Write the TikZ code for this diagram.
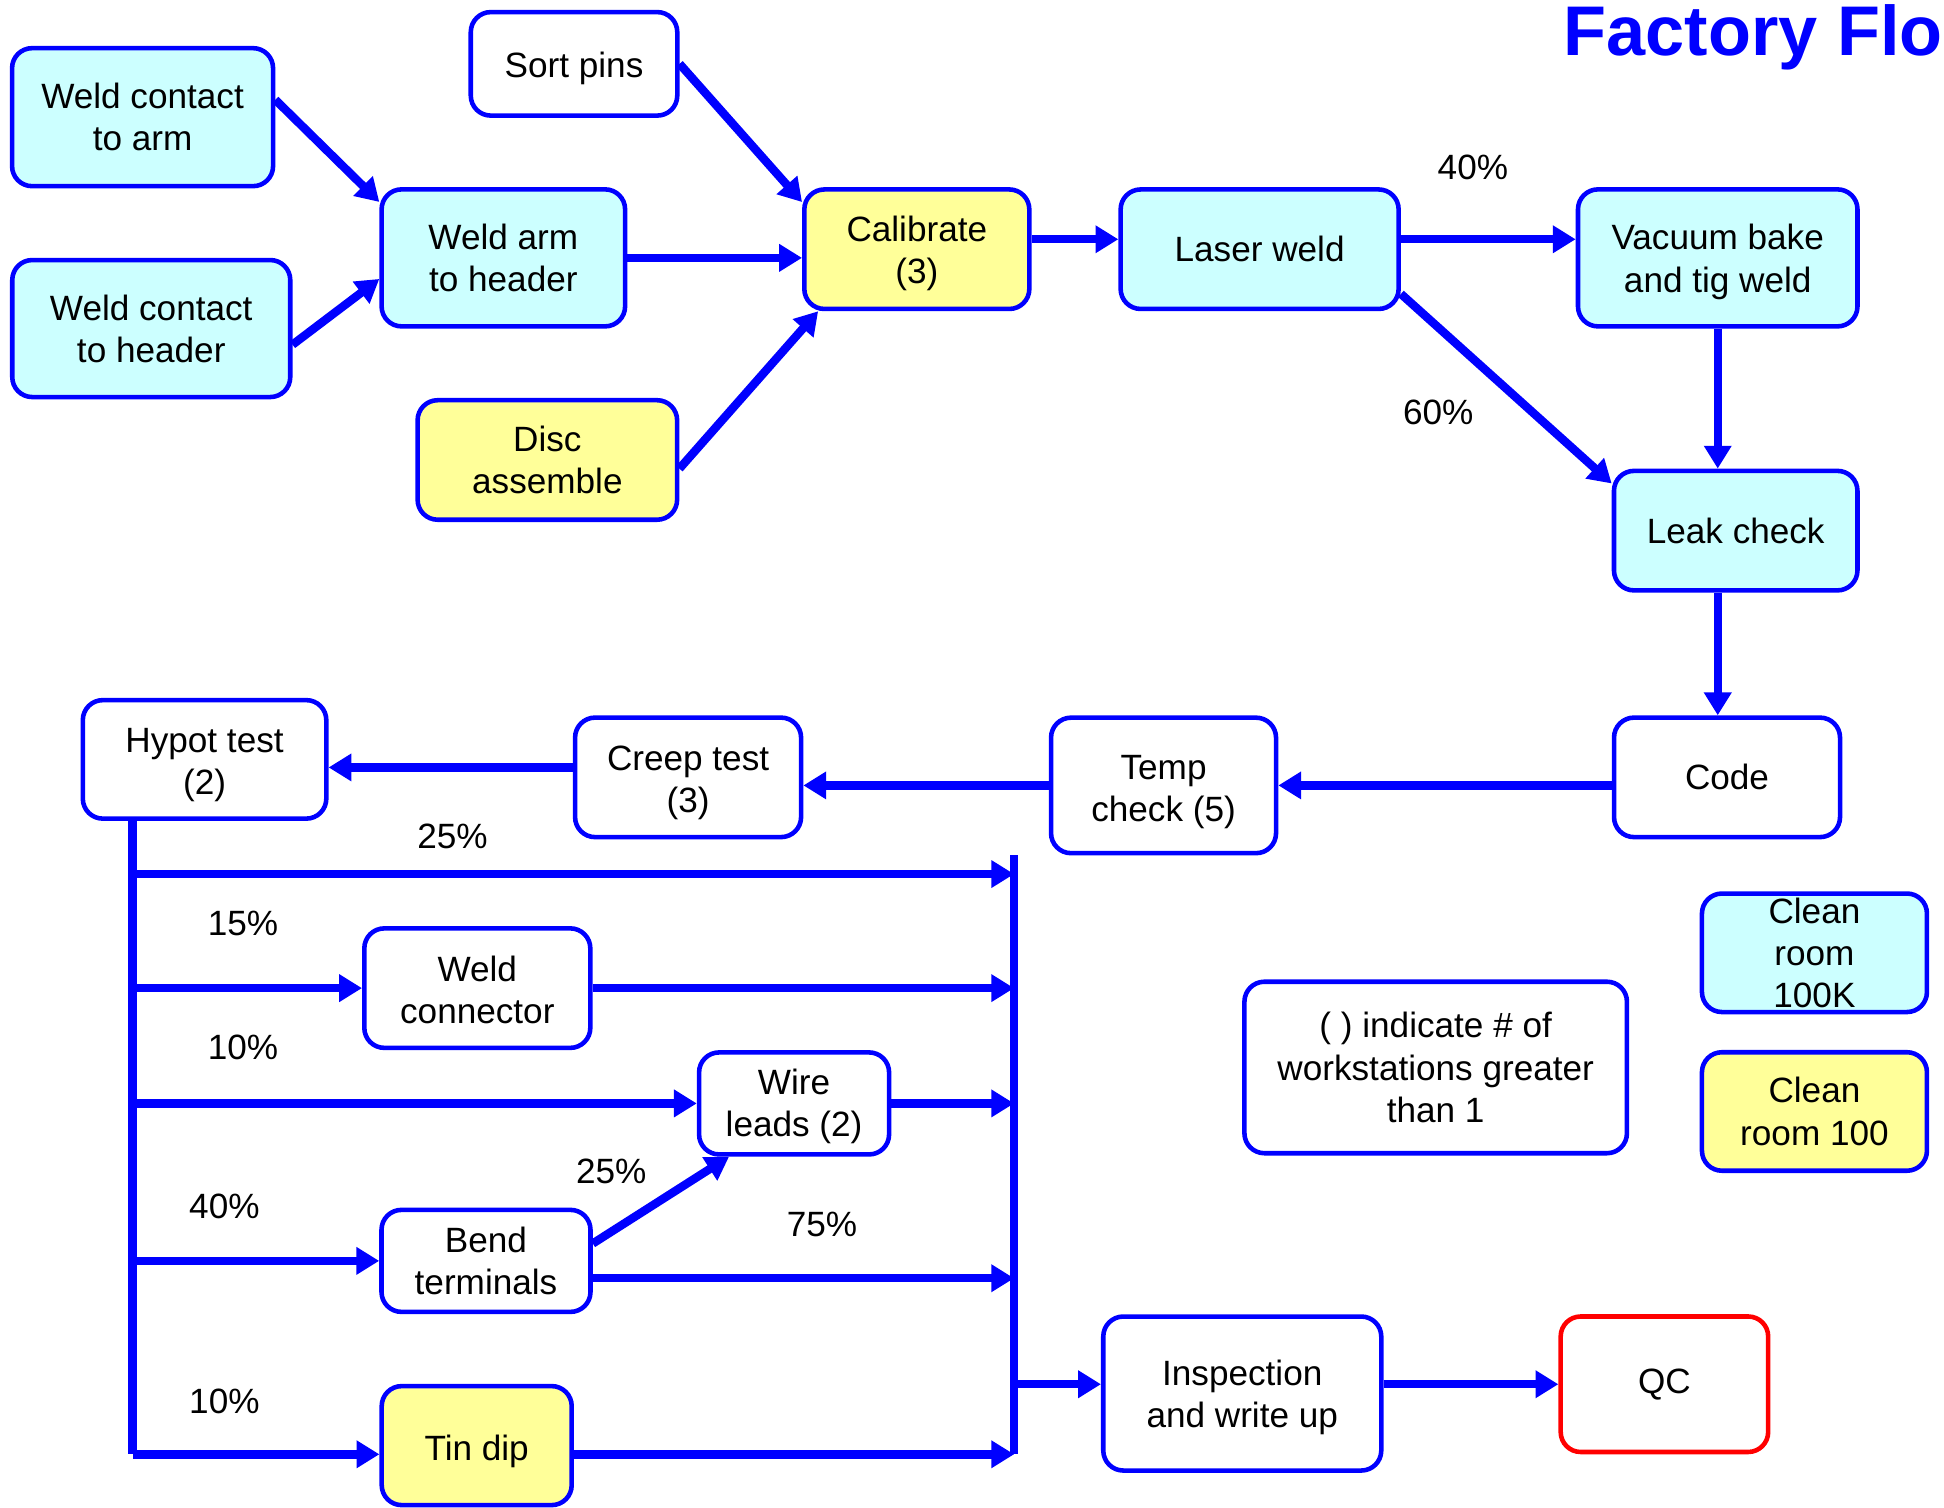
\documentclass[tikz,border=0pt]{standalone}
\usepackage{fontspec}
\setmainfont{Liberation Sans}
\usepackage{tikz}
\usetikzlibrary{shapes.geometric, arrows.meta, positioning, calc}
\definecolor{flowblue}{HTML}{0000FF}
\definecolor{room100k}{HTML}{CCFFFF}
\definecolor{room100}{HTML}{FFFF99}
\definecolor{qcred}{HTML}{FF0000}
\tikzstyle{station} = [rectangle, rounded corners=0.4cm, draw=flowblue, line width=2.6pt, fill=white, align=center, inner sep=1pt, font=\fontsize{20}{24}\selectfont]
\tikzstyle{cleanbig} = [station, fill=room100k]
\tikzstyle{cleansmall} = [station, fill=room100]
\tikzstyle{arrow} = [draw=flowblue, line width=4.8pt, -{Triangle[length=13pt, width=15pt]}]
\tikzstyle{rail} = [draw=flowblue, line width=4.8pt]
\tikzstyle{pct} = [font=\fontsize{20}{24}\selectfont, inner sep=0pt]

\begin{document}
\begin{tikzpicture}[x=0.0248cm, y=-0.0248cm]
\useasboundingbox (0,0) rectangle (1568,1216);

% Title
\node (title) [anchor=base west, inner sep=0pt, text=flowblue, font=\fontsize{40}{48}\selectfont\bfseries] at (1261,45) {Factory Flo};

% Sub assembly
\node (wca) [cleanbig, minimum width=5.22cm, minimum height=2.76cm] at (115,94.5) {Weld contact\\to arm};
\node (wch) [cleanbig, minimum width=5.56cm, minimum height=2.74cm] at (122,265) {Weld contact\\to header};
\node (warm) [cleanbig, minimum width=4.87cm, minimum height=2.74cm] at (406,208) {Weld arm\\to header};
\node (sort) [station, minimum width=4.13cm, minimum height=2.07cm] at (463,51.5) {\rule{0pt}{20pt}Sort pins};
\node (disc) [cleansmall, minimum width=5.19cm, minimum height=2.39cm] at (441.5,371) {Disc\\assemble};
\node (calib) [cleansmall, minimum width=4.5cm, minimum height=2.39cm] at (739.5,201) {\rule{0pt}{19pt}Calibrate\\(3)};

% Welding and leak check
\node (laser) [cleanbig, minimum width=5.56cm, minimum height=2.39cm] at (1016,201) {Laser weld};
\node (vac) [cleanbig, minimum width=5.59cm, minimum height=2.74cm] at (1385.5,208) {\rule{0pt}{19pt}Vacuum bake\\and tig weld};
\node (leak) [cleanbig, minimum width=4.87cm, minimum height=2.39cm] at (1400,428) {Leak check};

% Test line
\node (code) [station, minimum width=4.52cm, minimum height=2.39cm] at (1393,627) {Code};
\node (temp) [station, minimum width=4.5cm, minimum height=2.71cm] at (938.5,633.5) {\rule{0pt}{21pt}Temp\\check (5)};
\node (creep) [station, minimum width=4.52cm, minimum height=2.39cm] at (555,627) {\rule{0pt}{20pt}Creep test\\(3)};
\node (hypot) [station, minimum width=4.87cm, minimum height=2.37cm] at (165,612.5) {\rule{0pt}{20pt}Hypot test\\(2)};

% Branches
\node (wconn) [station, minimum width=4.52cm, minimum height=2.39cm] at (385,797) {\rule{0pt}{17pt}Weld\\connector};
\node (wire) [station, minimum width=3.8cm, minimum height=2.04cm] at (640.5,890) {\rule{0pt}{18pt}Wire\\leads (2)};
\node (bend) [station, minimum width=4.18cm, minimum height=2.04cm] at (392,1017) {Bend\\terminals};
\node (tin) [cleansmall, minimum width=3.8cm, minimum height=2.38cm] at (384.5,1166) {\rule{0pt}{21pt}Tin dip};
\node (insp) [station, minimum width=5.56cm, minimum height=3.08cm] at (1002,1124) {\rule{0pt}{19pt}Inspection\\and write up};
\node (qc) [station, draw=qcred, minimum width=4.15cm, minimum height=2.71cm] at (1342.5,1116.5) {QC};

% Legend
\node (note) [station, minimum width=7.65cm, minimum height=3.43cm] at (1158,861) {( ) indicate \# of\\workstations greater\\than 1};
\node (key100k) [cleanbig, minimum width=4.5cm, minimum height=2.37cm] at (1463.5,768.5) {Clean\\room\\100K};
\node (key100) [cleansmall, minimum width=4.5cm, minimum height=2.37cm] at (1463.5,896.5) {Clean\\room 100};

% Percentages
\node (p40a) [pct] at (1188,135) {40\%};
\node (p60) [pct] at (1160,333) {60\%};
\node (p25a) [pct] at (365,675) {25\%};
\node (p15) [pct] at (196,745) {15\%};
\node (p10a) [pct] at (196,845) {10\%};
\node (p40b) [pct] at (181,973) {40\%};
\node (p25b) [pct] at (493,945) {25\%};
\node (p75) [pct] at (663,988) {75\%};
\node (p10b) [pct] at (181,1130) {10\%};

% Rails
\coordinate (trunk) at (107,1173);
\coordinate (bustop) at (818,690);
\coordinate (busbot) at (818,1173);
\coordinate (row1) at (107,705);
\coordinate (lvout) at ($(laser.east)+(0,-8)$);
\coordinate (crout) at ($(creep.west)+(0,-8)$);
\coordinate (bdout) at ($(bend.east)+(0,14)$);

% Arrows
\draw [arrow] ($(wca.east)+(0,-14)$) -- ($(warm.north west)+(0,12)$);
\draw [arrow] ($(wch.east)+(0,13)$) -- ($(warm.west)+(0,17)$);
\draw [arrow] (warm.east) -- (warm.east -| calib.west);
\draw [arrow] (sort.east) -- ($(calib.north west)+(0,12)$);
\draw [arrow] ($(disc.east)+(0,7)$) -- ($(calib.south west)+(13,0)$);
\draw [arrow] ($(calib.east)+(0,-8)$) -- ($(laser.west)+(0,-8)$);
\draw [arrow] (lvout) -- (lvout -| vac.west);
\draw [arrow] ($(laser.south east)+(0,-14)$) -- ($(leak.north west)+(0,12)$);
\draw [arrow] (vac.south) -- (vac.south |- leak.north);
\draw [arrow] (vac.south |- leak.south) -- (vac.south |- code.north);
\draw [arrow] (code.west |- temp.east) -- (temp.east);
\draw [arrow] (temp.west) -- (temp.west -| creep.east);
\draw [arrow] (crout) -- (crout -| hypot.east);

\draw [rail] (hypot.south -| trunk) -- (trunk);
\draw [rail] (bustop) -- (busbot);
\draw [arrow] (row1) -- (row1 -| bustop);
\draw [arrow] (trunk |- wconn.west) -- (wconn.west);
\draw [arrow] (wconn.east) -- (wconn.east -| bustop);
\draw [arrow] (trunk |- wire.west) -- (wire.west);
\draw [arrow] (wire.east) -- (wire.east -| bustop);
\draw [arrow] (trunk |- bend.west) -- (bend.west);
\draw [arrow] (bdout) -- (bdout -| bustop);
\draw [arrow] ($(bend.east)+(0,-14)$) -- ($(wire.south west)+(26,0)$);
\draw [arrow] (trunk) -- (trunk -| tin.west);
\draw [arrow] (trunk -| tin.east) -- (busbot);
\draw [arrow] (bustop |- qc.west) -- (insp.west |- qc.west);
\draw [arrow] (insp.east |- qc.west) -- (qc.west);

\end{tikzpicture}
\end{document}
